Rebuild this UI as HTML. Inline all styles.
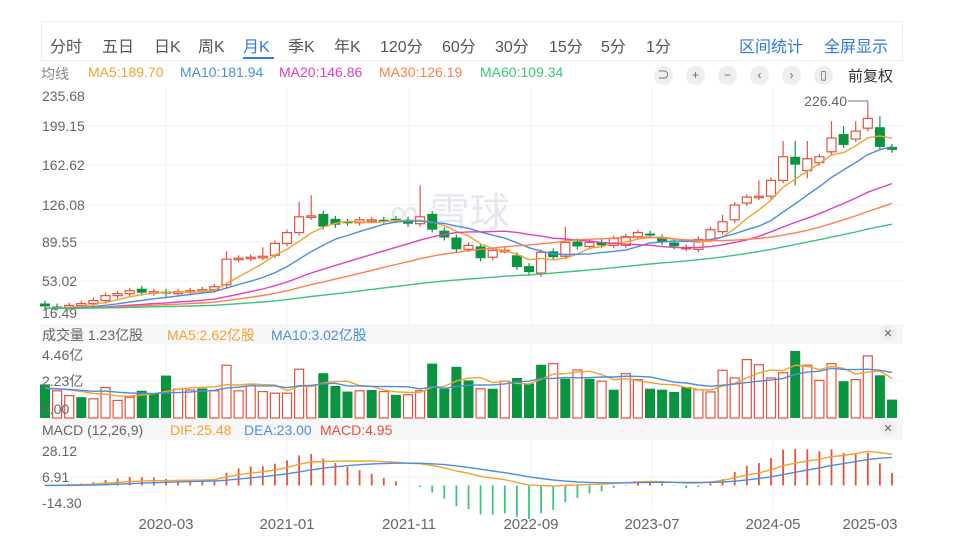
<!DOCTYPE html>
<html><head><meta charset="utf-8">
<style>
body{margin:0;width:960px;height:548px;background:#fff;overflow:hidden;font-family:"Liberation Sans","Noto Sans CJK SC",sans-serif;position:relative}
.t{position:absolute;white-space:nowrap}
.bar{position:absolute;left:41px;top:21px;width:862px;height:40px;border:1px solid #eee;box-sizing:border-box}
.tab{position:absolute;top:33px;font-size:16px;color:#555}
.ic{position:absolute;top:66px;width:19px;height:19px;border-radius:50%;background:#eee;color:#666;font-size:12px;text-align:center;line-height:19px}
</style></head><body>
<div class="bar"></div>
<div class="tab" style="left:50px">分时</div>
<div class="tab" style="left:102px">五日</div>
<div class="tab" style="left:154px">日K</div>
<div class="tab" style="left:198px">周K</div>
<div class="tab" style="left:243px;color:#2f7ae0">月K</div>
<div style="position:absolute;left:243px;top:57px;width:31px;height:2px;background:#2f7ae0"></div>
<div class="tab" style="left:288px">季K</div>
<div class="tab" style="left:334px">年K</div>
<div class="tab" style="left:380px">120分</div>
<div class="tab" style="left:442px">60分</div>
<div class="tab" style="left:495px">30分</div>
<div class="tab" style="left:549px">15分</div>
<div class="tab" style="left:601px">5分</div>
<div class="tab" style="left:646px">1分</div>
<div class="tab" style="left:739px;color:#2f7ae0">区间统计</div>
<div class="tab" style="left:824px;color:#2f7ae0">全屏显示</div>
<div class="t" style="left:41px;top:64px;font-size:14px;color:#888">均线</div>
<div class="t" style="left:88px;top:64px;font-size:14px;color:#f5a030">MA5:189.70</div>
<div class="t" style="left:180px;top:64px;font-size:14px;color:#4a8fdf">MA10:181.94</div>
<div class="t" style="left:279px;top:64px;font-size:14px;color:#e040c0">MA20:146.86</div>
<div class="t" style="left:379px;top:64px;font-size:14px;color:#ff7f50">MA30:126.19</div>
<div class="t" style="left:480px;top:64px;font-size:14px;color:#3cc47c">MA60:109.34</div>
<div class="ic" style="left:654px">⊃</div>
<div class="ic" style="left:686px">+</div>
<div class="ic" style="left:718px">−</div>
<div class="ic" style="left:750px">‹</div>
<div class="ic" style="left:782px">›</div>
<div class="ic" style="left:814px">▯</div>
<div class="t" style="left:848px;top:65px;font-size:15px;color:#333">前复权</div>
<svg id="s" width="960" height="548" style="position:absolute;left:0;top:0"></svg>
<script>
const S=document.getElementById('s');let h='';
const X=i=>45+12.1*i, PY=p=>96+(235.68-p)*0.985;
[166,287,409,531,652,773].forEach(x=>{h+=`<line x1="${x}" y1="88" x2="${x}" y2="510" stroke="#f0f0f0"/>`});
[126,165,205,242,281].forEach(y=>{h+=`<line x1="41" y1="${y}" x2="903" y2="${y}" stroke="#f2f2f2"/>`});
h+=`<rect x="41" y="324" width="862" height="20" fill="#f7f7f7"/><rect x="41" y="419" width="862" height="21" fill="#f7f7f7"/>`;
h+=`<line x1="41" y1="381" x2="903" y2="381" stroke="#f2f2f2"/><line x1="41" y1="477" x2="903" y2="477" stroke="#f2f2f2"/>`;
h+=`<text x="390" y="226" font-size="40" fill="#e4e8ee" font-family="Liberation Sans,Noto Sans CJK SC,sans-serif">∞ 雪球</text>`;
const C=[22,21,23,25,28,33,35,38,36,37,35,37,38,39,42,70,71,72,73,86,97,113,114,103,105,107,110,110,109,110,106,113,100,92,80,84,71,79,79,62,57,77,72,87,83,87,84,91,93,97,94,87,83,82,90,100,108,125,133,134,150,174,166,172,174,193,186,200,213,184,181];
const O=C.map((c,i)=>i?C[i-1]:25);
const ov={0:25,8:40,10:37,15:44,19:74,23:116,24:111,25:108,29:111,32:116,33:99,34:92,35:80,36:83,37:72,39:74,40:63,41:56,42:78,43:73,44:88,46:87,47:84,48:84,50:96,51:92,52:87,53:81,54:80,55:90,56:98,57:110,58:127,60:134,61:150,62:174,63:160,64:168,65:179,66:197,67:192,68:203,69:204,70:184};
for(const k in ov)O[k]=ov[k];
const hiO={15:78,18:82,21:128,22:135,31:145,43:103,56:115,59:150,61:190,62:190,63:190,65:210,66:205,67:210,68:226.4,69:215};
const loO={62:145,41:52,40:53,63:152};
for(let i=0;i<C.length;i++){const o=O[i],c=C[i],up=c>=o,col=up?'#e8513d':'#0b9440';
 const hi=hiO[i]||Math.max(o,c)+3,lo=loO[i]||Math.min(o,c)-3,x=X(i);
 h+=`<line x1="${x}" y1="${PY(hi)}" x2="${x}" y2="${PY(lo)}" stroke="${col}" stroke-width="1.2"/>`;
 const y1=PY(Math.max(o,c)),hh=Math.max(1.5,PY(Math.min(o,c))-y1);
 h+=up?`<rect x="${x-4.5}" y="${y1}" width="9" height="${hh}" fill="#fff" stroke="${col}" stroke-width="1.2"/>`:`<rect x="${x-5}" y="${y1}" width="10" height="${hh}" fill="${col}"/>`;}
h+=`<polyline points="${X(68)},${PY(226.4)} ${X(68)},101 848,101" fill="none" stroke="#777"/><text x="847" y="106" font-size="14" fill="#666" text-anchor="end">226.40</text>`;
const full=Array(60).fill(20).concat(C);
function ma(arr,n){return arr.map((v,i)=>{let s=0;for(let j=i-n+1;j<=i;j++)s+=arr[Math.max(0,j)];return s/n})}
[[5,'#f5a030'],[10,'#4a8fdf'],[20,'#e040c0'],[30,'#ff7f50'],[60,'#3cc47c']].forEach(([n,col])=>{
 const m=ma(full,n).slice(60);h+=`<polyline points="${m.map((v,i)=>X(i)+','+PY(v).toFixed(1)).join(' ')}" fill="none" stroke="${col}" stroke-width="1.4"/>`});
const V=[-2.1,1.7,1.4,-1.3,1.2,1.9,1.1,1.3,-1.7,-1.55,-2.65,1.8,1.75,-1.85,1.7,3.3,1.7,2.1,1.65,1.55,1.55,3.05,2.0,-2.8,-2.0,-1.65,1.7,-1.75,1.65,-1.45,1.45,1.7,-3.4,-1.83,-3.2,-2.35,1.83,-1.83,2.3,-2.5,-2.15,-3.33,3.4,-2.45,3.0,-2.45,2.3,-1.77,2.77,2.4,-1.83,-1.77,-1.63,-1.94,1.77,1.63,2.98,2.5,3.65,3.33,2.5,2.83,-4.19,3.3,2.35,3.4,-2.3,2.4,3.88,-2.67,-1.15];
const VY=v=>418-v*16;
V.forEach((v,i)=>{const a=Math.abs(v),x=X(i);h+=v>0?`<rect x="${x-4.5}" y="${VY(a)}" width="9" height="${a*16}" fill="#fff" stroke="#e8513d" stroke-width="1.2"/>`:`<rect x="${x-5}" y="${VY(a)}" width="10" height="${a*16}" fill="#0b9440"/>`});
const VA=V.map(Math.abs),fv=Array(10).fill(1.8).concat(VA);
[[5,'#f5a030'],[10,'#4a8fdf']].forEach(([n,col])=>{const m=ma(fv,n).slice(10);h+=`<polyline points="${m.map((v,i)=>X(i)+','+VY(v).toFixed(1)).join(' ')}" fill="none" stroke="${col}" stroke-width="1.4"/>`});
function ema(a,n){const k=2/(n+1);let e=a[0];return a.map(v=>e=e+(v-e)*k)}
const f2=Array(40).fill(20).concat(C);
const e12=ema(f2,12),e26=ema(f2,26),dif=e12.map((v,i)=>v-e26[i]),dea=ema(dif,9);
const D=dif.slice(40),E=dea.slice(40);
const sc=25.48/D[D.length-1];const MY=v=>485.5-v*sc*1.226;
D.forEach((d,i)=>{const m=4*(d-E[i]),x=X(i);h+=`<line x1="${x}" y1="${MY(0)}" x2="${x}" y2="${MY(m)}" stroke="${m>=0?'#e8513d':'#3cc47c'}" stroke-width="1.8"/>`});
h+=`<polyline points="${D.map((v,i)=>X(i)+','+MY(v).toFixed(1)).join(' ')}" fill="none" stroke="#f5a030" stroke-width="1.4"/>`;
h+=`<polyline points="${E.map((v,i)=>X(i)+','+MY(v).toFixed(1)).join(' ')}" fill="none" stroke="#4a8fdf" stroke-width="1.4"/>`;
const L=(x,y,t,c,a,s)=>h+=`<text x="${x}" y="${y}" font-size="${s||14}" fill="${c||'#666'}" text-anchor="${a||'start'}" font-family="Liberation Sans,Noto Sans CJK SC,sans-serif">${t}</text>`;
[[101,'235.68'],[131,'199.15'],[170,'162.62'],[210,'126.08'],[247,'89.55'],[286,'53.02'],[318,'16.49']].forEach(([y,t])=>L(42,y,t));
L(42,360,'4.46亿');L(42,386,'2.23亿');L(42,414,'0.00');
L(42,340,'成交量 1.23亿股');L(167,340,'MA5:2.62亿股','#f5a030');L(271,340,'MA10:3.02亿股','#4a8fdf');
L(42,435,'MACD (12,26,9)');L(170,435,'DIF:25.48','#f5a030');L(244,435,'DEA:23.00','#4a8fdf');L(320,435,'MACD:4.95','#e8513d');
L(42,456,'28.12');L(42,482,'6.91');L(42,508,'-14.30');
[[166,'2020-03'],[287,'2021-01'],[409,'2021-11'],[531,'2022-09'],[652,'2023-07'],[773,'2024-05'],[870,'2025-03']].forEach(([x,t])=>L(x,529,t,'#666','middle',15));
h+=`<circle cx="888" cy="333" r="8" fill="#eee"/><text x="888" y="337" font-size="11" fill="#666" text-anchor="middle">✕</text>`;
h+=`<circle cx="888" cy="428" r="8" fill="#eee"/><text x="888" y="432" font-size="11" fill="#666" text-anchor="middle">✕</text>`;
S.innerHTML=h;
</script>
</body></html>
